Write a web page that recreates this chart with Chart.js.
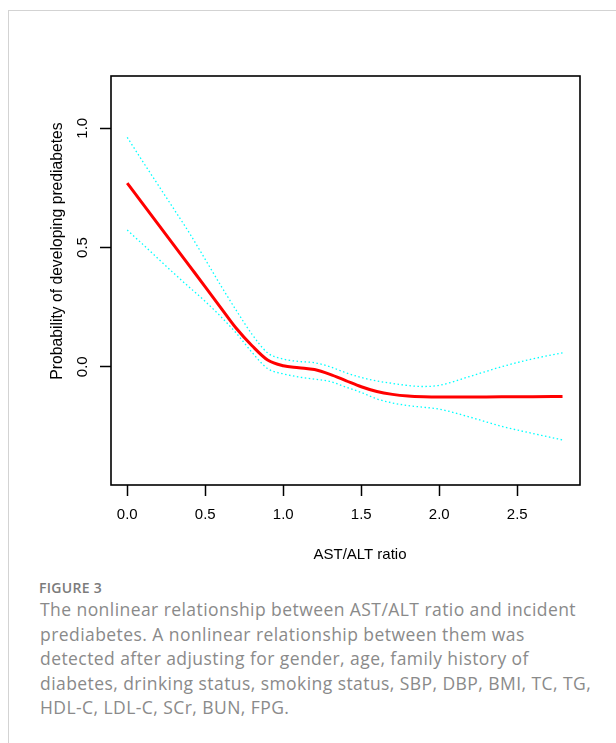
<!DOCTYPE html>
<html lang="en">
<head>
<meta charset="UTF-8">
<title>AST/ALT ratio vs prediabetes</title>
<script src="https://cdn.jsdelivr.net/npm/chart.js"></script>
<style>
    html, body {margin: 0; padding: 0; background: #fff;}
    body {width: 616px; height: 743px; position: relative; overflow: hidden;}
    .card {
        position: absolute; left: 8px; top: 10px; width: 700px; height: 800px;
        border-top: 1px solid #d3d3d3; border-left: 1px solid #d3d3d3;
    }
    #wrap {position: absolute; left: 0; top: 0; width: 616px; height: 570px;}
    .fig {
        position: absolute; left: 39px; top: 578px;
        font-family: "Open Sans", sans-serif; font-weight: 600; font-size: 14px;
        line-height: 19px; color: #7b7b7b; letter-spacing: 0.3px;
    }
    .caption {
        position: absolute; left: 40px; top: 597px;
        font-family: "Open Sans", sans-serif; font-size: 17.5px; line-height: 24.5px;
        color: #8a8a8a; white-space: nowrap;
    }
</style>
</head>
<body>
<div class="card"></div>
<div id="wrap"><canvas id="chart" width="616" height="570"></canvas></div>
<div class="fig">FIGURE 3</div>
<div class="caption" id="caption">The nonlinear relationship between AST/ALT ratio and incident<br>prediabetes. A nonlinear relationship between them was<br>detected after adjusting for gender, age, family history of<br>diabetes, drinking status, smoking status, SBP, DBP, BMI, TC, TG,<br>HDL-C, LDL-C, SCr, BUN, FPG.</div>

<script>
// values
const ratio = [0, 0.1, 0.2, 0.3, 0.4, 0.5, 0.6, 0.7, 0.8, 0.9, 1.0, 1.1, 1.2, 1.3, 1.4, 1.5, 1.6, 1.7, 1.8, 1.9, 2.0, 2.2, 2.4, 2.6, 2.79]
const fitted = [0.77, 0.683, 0.596, 0.509, 0.422, 0.335, 0.247, 0.16, 0.088, 0.028, 0.004, -0.004, -0.012, -0.032, -0.058, -0.084, -0.104, -0.116, -0.123, -0.126, -0.127, -0.127, -0.126, -0.126, -0.125]
const upperCI = [0.962, 0.86, 0.76, 0.66, 0.559, 0.45, 0.34, 0.235, 0.136, 0.058, 0.032, 0.022, 0.017, 0.0, -0.025, -0.045, -0.06, -0.07, -0.079, -0.083, -0.078, -0.04, 0.0, 0.033, 0.058]
const lowerCI = [0.573, 0.513, 0.452, 0.391, 0.332, 0.274, 0.21, 0.14, 0.06, -0.008, -0.03, -0.043, -0.052, -0.062, -0.085, -0.108, -0.135, -0.152, -0.163, -0.17, -0.178, -0.212, -0.25, -0.28, -0.307]
const xTicks = [0, 0.5, 1.0, 1.5, 2.0, 2.5]
const yTicks = [0, 0.5, 1.0]

function pts(ys) {
    return ratio.map((x, i) => ({x: x, y: ys[i]}))
}

// fit caption width to the original line length
let cap = document.getElementById('caption')
let mctx = document.createElement('canvas').getContext('2d')
mctx.font = '17.5px "Open Sans"'
let line1 = 'The nonlinear relationship between AST/ALT ratio and incident'
let w = mctx.measureText(line1).width
cap.style.letterSpacing = ((536 - w) / line1.length).toFixed(3) + 'px'

const fontFam = '"Liberation Sans", Arial, sans-serif'

// box around the plot area, like R's bty="o"
const boxPlugin = {
    id: 'box',
    afterDatasetsDraw(chart) {
        let a = chart.chartArea, c = chart.ctx
        c.save()
        c.strokeStyle = '#000'
        c.lineWidth = 1.6
        c.strokeRect(a.left, a.top, a.right - a.left, a.bottom - a.top)
        c.restore()
    }
}

// axis titles sit a bit off-centre in the original
const titlePlugin = {
    id: 'titles',
    afterDraw(chart) {
        let c = chart.ctx
        c.save()
        c.fillStyle = '#000'
        c.textAlign = 'center'
        c.textBaseline = 'middle'
        c.font = '15px ' + fontFam
        c.fillText('AST/ALT ratio', 360, 555)
        c.translate(58, 251)
        c.rotate(-Math.PI / 2)
        c.font = '15.7px ' + fontFam
        c.fillText('Probability of developing prediabetes', 0, 0)
        c.restore()
    }
}

let ctx = document.getElementById('chart').getContext('2d')
new Chart(ctx, {
    type: 'scatter',
    data: {
        datasets: [
            {data: pts(upperCI), showLine: true, borderColor: '#00ffff', borderWidth: 1.3, borderDash: [1.5, 2.5], pointRadius: 0, cubicInterpolationMode: 'monotone'},
            {data: pts(lowerCI), showLine: true, borderColor: '#00ffff', borderWidth: 1.3, borderDash: [1.5, 2.5], pointRadius: 0, cubicInterpolationMode: 'monotone'},
            {data: pts(fitted), showLine: true, borderColor: '#ff0000', borderWidth: 3, pointRadius: 0, cubicInterpolationMode: 'monotone'}
        ]
    },
    options: {
        responsive: false,
        animation: false,
        layout: {padding: {top: 76, right: 36, left: 0, bottom: 0}},
        plugins: {legend: {display: false}, tooltip: {enabled: false}},
        scales: {
            x: {
                type: 'linear',
                min: -0.104, max: 2.902,
                afterBuildTicks: s => { s.ticks = xTicks.map(v => ({value: v})) },
                afterFit: s => { s.height = 85 },
                grid: {drawOnChartArea: false, drawTicks: true, tickLength: 11, tickColor: '#000', tickWidth: 1.5},
                border: {display: false},
                ticks: {color: '#000', padding: 10, maxRotation: 0, font: {family: fontFam, size: 15}, callback: v => v.toFixed(1)}
            },
            y: {
                type: 'linear',
                min: -0.496, max: 1.219,
                afterBuildTicks: s => { s.ticks = yTicks.map(v => ({value: v})) },
                afterFit: s => { s.width = 111 },
                grid: {drawOnChartArea: false, drawTicks: true, tickLength: 11, tickColor: '#000', tickWidth: 1.5},
                border: {display: false},
                ticks: {color: '#000', padding: 7, minRotation: 90, maxRotation: 90, crossAlign: 'center', font: {family: fontFam, size: 15}, callback: v => v.toFixed(1)}
            }
        }
    },
    plugins: [boxPlugin, titlePlugin]
})
</script>
</body>
</html>
